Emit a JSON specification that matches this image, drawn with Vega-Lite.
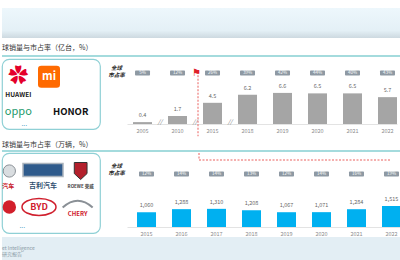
{
  "$schema": "https://vega.github.io/schema/vega-lite/v6.json",
  "padding": {"top": 8, "left": 0, "right": 0, "bottom": 0},
  "spacing": 0,
  "data": {"values": [{}]},
  "datasets": {
    "global": [
      {"year": "2005", "sales": 0.4, "share": 0.05},
      {"year": "2010", "sales": 1.7, "share": 0.12},
      {"year": "2015", "sales": 4.5, "share": 0.26},
      {"year": "2018", "sales": 6.2, "share": 0.39},
      {"year": "2019", "sales": 6.6, "share": 0.42},
      {"year": "2020", "sales": 6.5, "share": 0.44},
      {"year": "2021", "sales": 6.5, "share": 0.40},
      {"year": "2022", "sales": 5.7, "share": 0.43}
    ],
    "cars": [
      {"year": "2015", "sales": 1060, "share": 0.12},
      {"year": "2016", "sales": 1288, "share": 0.14},
      {"year": "2017", "sales": 1310, "share": 0.14},
      {"year": "2018", "sales": 1208, "share": 0.13},
      {"year": "2019", "sales": 1067, "share": 0.12},
      {"year": "2020", "sales": 1071, "share": 0.14},
      {"year": "2021", "sales": 1284, "share": 0.16},
      {"year": "2022", "sales": 1515, "share": 0.19}
    ]
  },
  "vconcat": [
    {
      "width": 400, "height": 30,
      "mark": {"type": "rect", "color": {"gradient": "linear", "x1": 0, "y1": 0, "x2": 0, "y2": 1, "stops": [{"offset": 0, "color": "#edf7fc"}, {"offset": 0.75, "color": "#e4f0f6"}, {"offset": 1, "color": "#cdd9e0"}]}},
      "encoding": {
        "x": {"datum": 0, "scale": {"domain": [0, 1], "nice": false}, "axis": null},
        "x2": {"datum": 1},
        "y": {"datum": 0, "scale": {"domain": [0, 1], "nice": false}, "axis": null},
        "y2": {"datum": 1}
      }
    },
    {
      "width": 400, "height": 20,
      "layer": [
        {
          "mark": {"type": "text", "align": "left", "baseline": "middle", "fontSize": 7, "color": "#333333", "text": "球销量与市占率（亿台，%）"},
          "encoding": {
            "x": {"datum": 0, "scale": {"domain": [0, 1]}, "axis": null},
            "y": {"datum": 10, "scale": {"domain": [0, 20]}, "axis": null}
          }
        },
        {
          "mark": {"type": "rule", "color": "#86cfd2", "strokeWidth": 1.5},
          "encoding": {"y": {"datum": 2}}
        }
      ]
    },
    {
      "spacing": 6,
      "hconcat": [
        {
          "width": 98, "height": 70,
          "view": {"stroke": "#8fd0d5", "strokeWidth": 1.2, "cornerRadius": 7, "fill": "white"},
          "layer": [
            {
              "mark": {"type": "point", "shape": "M -0.7 -1 L 0.7 -1 Q 1 -1 1 -0.7 L 1 0.7 Q 1 1 0.7 1 L -0.7 1 Q -1 1 -1 0.7 L -1 -0.7 Q -1 -1 -0.7 -1 Z", "size": 484, "filled": true, "color": "#ff6a00", "opacity": 1, "xOffset": -2, "yOffset": 9},
              "encoding": {
                "x": {"datum": "b", "scale": {"type": "point", "domain": ["a", "b", "c"], "padding": 0.5}, "axis": null},
                "y": {"datum": "r1", "scale": {"type": "point", "domain": ["r1", "r2", "r3", "r4"], "padding": 0.5}, "axis": null}
              }
            },
            {"mark": {"type": "text", "text": "mi", "fontSize": 11, "fontWeight": "bold", "color": "white", "baseline": "middle", "dx": -2, "dy": 9}, "encoding": {"x": {"datum": "b"}, "y": {"datum": "r1"}}},
            {"mark": {"type": "text", "text": "✿", "fontSize": 20, "color": "#e4002b", "baseline": "middle", "dy": 9}, "encoding": {"x": {"datum": "a"}, "y": {"datum": "r1"}}},
            {"mark": {"type": "text", "text": "HUAWEI", "fontSize": 6.5, "fontWeight": "bold", "color": "#222222", "baseline": "middle", "dy": 10}, "encoding": {"x": {"datum": "a"}, "y": {"datum": "r2"}}},
            {"mark": {"type": "text", "text": "oppo", "fontSize": 11, "color": "#1d9a6c", "baseline": "middle", "dy": 9}, "encoding": {"x": {"datum": "a"}, "y": {"datum": "r3"}}},
            {"mark": {"type": "text", "text": "HONOR", "fontSize": 9.5, "fontWeight": "bold", "color": "#111111", "baseline": "middle", "dx": -13, "dy": 9}, "encoding": {"x": {"datum": "c"}, "y": {"datum": "r3"}}},
            {"mark": {"type": "text", "text": "...", "fontSize": 7, "color": "#4aa3c8", "baseline": "middle", "dx": 6, "dy": 4}, "encoding": {"x": {"datum": "a"}, "y": {"datum": "r4"}}}
          ]
        },
        {
          "width": 270, "height": 65,
          "data": {"name": "global"},
          "encoding": {
            "x": {"field": "year", "type": "ordinal", "scale": {"paddingInner": 0.457, "paddingOuter": 0.086, "align": 1},
              "axis": {"title": null, "labelAngle": 0, "labelFontSize": 5.5, "labelColor": "#8c8c8c", "labelPadding": 4, "ticks": false, "domainColor": "#dcdcdc", "domainWidth": 0.8, "grid": false}}
          },
          "layer": [
            {
              "mark": {"type": "bar", "color": "#a5a5a5"},
              "encoding": {"y": {"field": "sales", "type": "quantitative", "scale": {"domain": [0, 13.8], "nice": false},
                "axis": {"title": ["全球", "市占率"], "labels": false, "ticks": false, "domain": false, "grid": false, "titleAngle": 0, "titleAlign": "center", "titleBaseline": "top", "titleX": -11, "titleY": 6, "titleFontSize": 5.5, "titleFontWeight": "bold", "titleFontStyle": "italic", "titleColor": "#222222", "titleLineHeight": 7}}}
            },
            {
              "mark": {"type": "text", "dy": -4, "fontSize": 5.5, "color": "#666666", "baseline": "bottom"},
              "encoding": {"y": {"field": "sales", "type": "quantitative"}, "text": {"field": "sales", "type": "quantitative", "format": ".1f"}}
            },
            {
              "mark": {"type": "bar", "width": 15, "color": "#8e99a3", "cornerRadius": 1},
              "encoding": {"y": {"datum": 11.38}, "y2": {"datum": 10.32}}
            },
            {
              "mark": {"type": "text", "fontSize": 4.5, "color": "white", "baseline": "middle"},
              "encoding": {"y": {"datum": 10.85}, "text": {"field": "share", "type": "quantitative", "format": ".0%"}}
            },
            {
              "data": {"values": [{"year": "2010"}, {"year": "2015"}, {"year": "2018"}]},
              "mark": {"type": "text", "text": "//", "dx": -17.5, "fontSize": 6, "fontStyle": "italic", "color": "#777777", "baseline": "middle"},
              "encoding": {"y": {"datum": 0.5}}
            },
            {
              "data": {"values": [{"year": "2015"}]},
              "mark": {"type": "rule", "color": "#e53935", "strokeDash": [2, 1.5], "strokeWidth": 0.8, "xOffset": -5},
              "encoding": {"x": {"field": "year", "type": "ordinal", "bandPosition": 0}, "y": {"datum": 11.1}, "y2": {"datum": -2.6}}
            },
            {
              "data": {"values": [{"year": "2015"}]},
              "mark": {"type": "text", "text": "⚑", "fontSize": 10, "color": "#e0202a", "dx": -11, "align": "left", "baseline": "middle"},
              "encoding": {"x": {"field": "year", "type": "ordinal", "bandPosition": 0}, "y": {"datum": 10.85}}
            }
          ]
        }
      ]
    },
    {
      "width": 400, "height": 15,
      "layer": [
        {
          "mark": {"type": "text", "align": "left", "baseline": "middle", "fontSize": 7, "color": "#333333", "text": "球销量与市占率（万辆，%）"},
          "encoding": {
            "x": {"datum": 0, "scale": {"domain": [0, 1]}, "axis": null},
            "y": {"datum": 8, "scale": {"domain": [0, 15]}, "axis": null}
          }
        },
        {
          "mark": {"type": "rule", "color": "#86cfd2", "strokeWidth": 1.5},
          "encoding": {"y": {"datum": 1}}
        }
      ]
    },
    {
      "spacing": 6,
      "hconcat": [
        {
          "width": 98, "height": 80,
          "view": {"stroke": "#8fd0d5", "strokeWidth": 1.2, "cornerRadius": 7, "fill": "white"},
          "layer": [
            {
              "mark": {"type": "point", "shape": "circle", "size": 150, "filled": true, "fill": "#d9dde0", "stroke": "#8a9096", "strokeWidth": 1, "opacity": 1, "xOffset": -9, "yOffset": 8},
              "encoding": {
                "x": {"datum": "a", "scale": {"type": "point", "domain": ["a", "b", "c"], "padding": 0.5}, "axis": null},
                "y": {"datum": "r1", "scale": {"type": "point", "domain": ["r1", "r2", "r3", "r4"], "padding": 0.5}, "axis": null}
              }
            },
            {"mark": {"type": "text", "text": "汽车", "fontSize": 6, "fontWeight": "bold", "color": "#c8202c", "align": "left", "baseline": "middle", "dx": -16, "dy": 3}, "encoding": {"x": {"datum": "a"}, "y": {"datum": "r2"}}},
            {"mark": {"type": "point", "shape": "M -1 -0.32 L 1 -0.32 L 1 0.32 L -1 0.32 Z", "size": 1600, "filled": true, "fill": "#2f5b8c", "stroke": "#aab3bc", "strokeWidth": 1.5, "opacity": 1, "xOffset": -8, "yOffset": 7}, "encoding": {"x": {"datum": "b"}, "y": {"datum": "r1"}}},
            {"mark": {"type": "text", "text": "吉利汽车", "fontSize": 7, "fontWeight": "bold", "color": "#2f4f6f", "baseline": "middle", "dx": -8, "dy": 3}, "encoding": {"x": {"datum": "b"}, "y": {"datum": "r2"}}},
            {"mark": {"type": "point", "shape": "M -0.75 -1 L 0.75 -1 L 0.75 0.3 L 0 1 L -0.75 0.3 Z", "size": 289, "filled": true, "fill": "#b3202c", "stroke": "#333333", "strokeWidth": 1, "opacity": 1, "xOffset": -3, "yOffset": 8}, "encoding": {"x": {"datum": "c"}, "y": {"datum": "r1"}}},
            {"mark": {"type": "text", "text": "ROEWE 荣威", "fontSize": 4.5, "fontWeight": "bold", "color": "#444444", "baseline": "middle", "dx": -3, "dy": 4}, "encoding": {"x": {"datum": "c"}, "y": {"datum": "r2"}}},
            {"mark": {"type": "point", "shape": "circle", "size": 180, "filled": true, "color": "#d21f2b", "opacity": 1, "xOffset": -9, "yOffset": 4}, "encoding": {"x": {"datum": "a"}, "y": {"datum": "r3"}}},
            {"mark": {"type": "point", "shape": "M -1 0 A 1 0.5 0 1 0 1 0 A 1 0.5 0 1 0 -1 0 Z", "size": 1156, "filled": false, "stroke": "#d0202e", "strokeWidth": 1.5, "opacity": 1, "xOffset": -12, "yOffset": 4}, "encoding": {"x": {"datum": "b"}, "y": {"datum": "r3"}}},
            {"mark": {"type": "text", "text": "BYD", "fontSize": 9, "fontWeight": "bold", "color": "#d0202e", "baseline": "middle", "dx": -12, "dy": 4}, "encoding": {"x": {"datum": "b"}, "y": {"datum": "r3"}}},
            {"mark": {"type": "point", "shape": "M -1 0.3 Q 0 -0.6 1 0.3", "size": 900, "filled": false, "stroke": "#8a9096", "strokeWidth": 2, "opacity": 1, "xOffset": -6, "yOffset": 0}, "encoding": {"x": {"datum": "c"}, "y": {"datum": "r3"}}},
            {"mark": {"type": "text", "text": "CHERY", "fontSize": 6, "fontWeight": "bold", "color": "#d0202e", "baseline": "middle", "dx": -6, "dy": 11}, "encoding": {"x": {"datum": "c"}, "y": {"datum": "r3"}}},
            {"mark": {"type": "text", "text": "...", "fontSize": 7, "color": "#4aa3c8", "baseline": "middle", "dx": 4, "dy": 3}, "encoding": {"x": {"datum": "a"}, "y": {"datum": "r4"}}}
          ]
        },
        {
          "width": 274, "height": 74,
          "data": {"name": "cars"},
          "encoding": {
            "x": {"field": "year", "type": "ordinal", "scale": {"paddingInner": 0.457, "paddingOuter": 0.143, "align": 1},
              "axis": {"title": null, "labelAngle": 0, "labelFontSize": 5.5, "labelColor": "#8c8c8c", "labelPadding": 4, "ticks": false, "domainColor": "#dcdcdc", "domainWidth": 0.8, "grid": false}}
          },
          "layer": [
            {
              "mark": {"type": "bar", "color": "#00b0f0"},
              "encoding": {"y": {"field": "sales", "type": "quantitative", "scale": {"domain": [0, 5340], "nice": false},
                "axis": {"title": ["全球", "市占率"], "labels": false, "ticks": false, "domain": false, "grid": false, "titleAngle": 0, "titleAlign": "center", "titleBaseline": "top", "titleX": -11, "titleY": 10, "titleFontSize": 5.5, "titleFontWeight": "bold", "titleFontStyle": "italic", "titleColor": "#222222", "titleLineHeight": 7}}}
            },
            {
              "mark": {"type": "text", "dy": -4, "fontSize": 5.5, "color": "#666666", "baseline": "bottom"},
              "encoding": {"y": {"field": "sales", "type": "quantitative"}, "text": {"field": "sales", "type": "quantitative", "format": ","}}
            },
            {
              "mark": {"type": "bar", "width": 15, "color": "#8e99a3", "cornerRadius": 1},
              "encoding": {"y": {"datum": 4004}, "y2": {"datum": 3644}}
            },
            {
              "mark": {"type": "text", "fontSize": 4.5, "color": "white", "baseline": "middle"},
              "encoding": {"y": {"datum": 3824}, "text": {"field": "share", "type": "quantitative", "format": ".0%"}}
            },
            {
              "data": {"values": [{"year": "2017", "end": "2022"}]},
              "mark": {"type": "rule", "color": "#e53935", "strokeDash": [2, 1.5], "strokeWidth": 0.8, "xOffset": -8},
              "encoding": {"x": {"field": "year", "type": "ordinal", "bandPosition": 0}, "y": {"datum": 5340}, "y2": {"datum": 4834}}
            },
            {
              "data": {"values": [{"year": "2017", "end": "2022"}]},
              "mark": {"type": "rule", "color": "#e53935", "strokeDash": [2, 1.5], "strokeWidth": 0.8, "xOffset": -8},
              "encoding": {"x": {"field": "year", "type": "ordinal", "bandPosition": 0}, "x2": {"field": "end"}, "y": {"datum": 4834}}
            }
          ]
        }
      ]
    },
    {
      "width": 400, "height": 28,
      "view": {"fill": "#e3eef4", "stroke": null},
      "layer": [
        {
          "mark": {"type": "text", "align": "left", "baseline": "middle", "fontSize": 5, "color": "#8a9aa5", "text": "et Intelligence"},
          "encoding": {
            "x": {"datum": 0, "scale": {"domain": [0, 1]}, "axis": null},
            "y": {"datum": 17, "scale": {"domain": [0, 28]}, "axis": null}
          }
        },
        {
          "mark": {"type": "text", "align": "left", "baseline": "middle", "fontSize": 5, "color": "#8a9aa5", "text": "研究报告"},
          "encoding": {"x": {"datum": 0}, "y": {"datum": 11}}
        }
      ]
    }
  ],
  "config": {
    "view": {"stroke": null},
    "font": "Noto Sans CJK SC"
  }
}
